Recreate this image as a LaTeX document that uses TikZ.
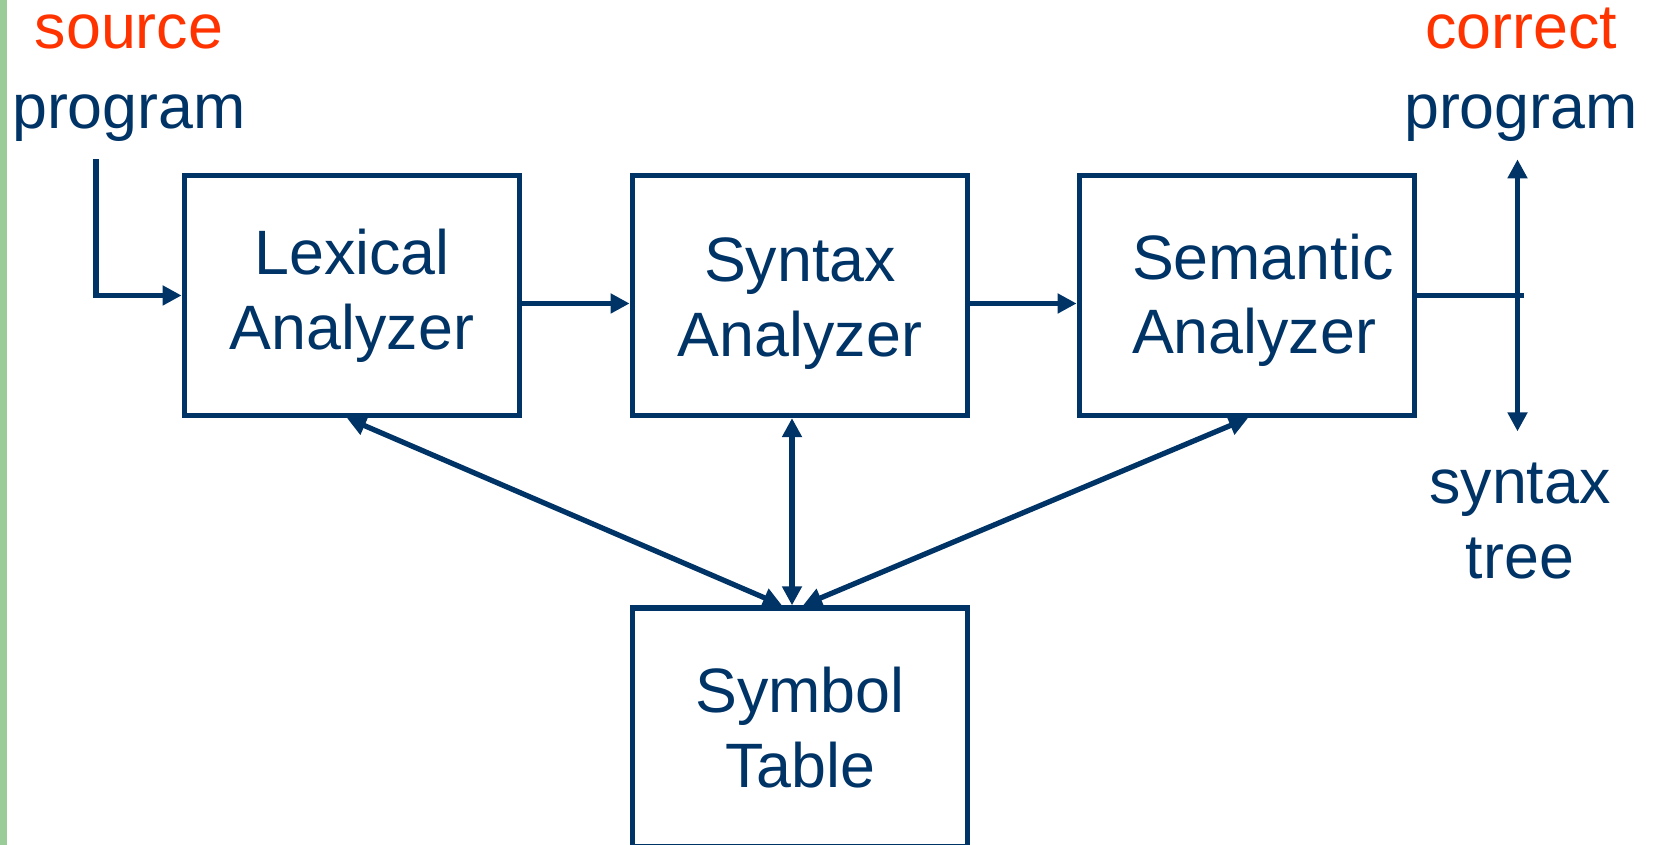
\documentclass[tikz,border=0pt]{standalone}
\usepackage{fontspec}
\setmainfont{Liberation Sans}
\usetikzlibrary{arrows.meta}

\definecolor{navy}{HTML}{003366}
\definecolor{hot}{HTML}{FF3300}
\definecolor{rim}{HTML}{99CC99}

\hyphenpenalty=10000

\begin{document}
\begin{tikzpicture}[
  every node/.style={font=\fontsize{35.7}{42.5}\selectfont, text=navy, align=center, inner sep=0pt},
  phase/.style={rectangle, draw=navy, line width=3pt, minimum width=6.71cm, minimum height=4.8cm},
  low/.style={text height=2.70cm},
  lbl/.style={anchor=base, font=\fontsize{35.7}{45.5}\selectfont},
  flow/.style={->, draw=navy, line width=3pt},
  link/.style={<->, draw=navy, line width=3pt},
  >={Triangle[length=0.38cm, width=0.38cm]}
]
\useasboundingbox (0,0) rectangle (33.1,16.9);

% green rule on the left
\fill[rim] (0,0) rectangle (0.134,16.9);

% compiler phases
\node[phase] (lex) at (7.04, 10.99) {Lexical\\Analyzer};
\node[phase, low] (syn) at (16.0, 10.99) {Syntax\\Analyzer};
\node[phase, align=flush left, text width=4.6cm, text height=1.1cm] (sem) at (24.94, 10.99) {Semantic\\Analyzer};
\node[phase, minimum height=4.78cm] (sym) at (16.0, 2.35) {Symbol\\Table};

% input and output labels
\node[lbl] (src) at (2.58, 14.33) {{\color{hot}source}\\program};
\node[lbl] (out) at (30.42, 14.33) {{\color{hot}correct}\\program};
\node[lbl, font=\fontsize{35.7}{42.5}\selectfont] (tree) at (30.40, 5.33) {syntax\\tree};

% main pipeline
\draw[flow] ([xshift=-0.66cm, yshift=-0.35cm]src.south) |- (lex.west);
\draw[flow] ([yshift=-0.16cm]lex.east) -- ([yshift=-0.16cm]syn.west);
\draw[flow] ([yshift=-0.16cm]syn.east) -- ([yshift=-0.16cm]sem.west);

% result goes either way
\path (sem.east -| out.south) ++(-0.07,0) coordinate (split);
\draw[navy, line width=3pt] (sem.east) -- ([xshift=0.13cm]split);
\draw[flow, shorten >=0.35cm] (split) -- (split |- out.south);
\draw[flow, shorten >=0.63cm] (split) -- (split |- tree.north);

% symbol table access
\draw[link] ([xshift=-0.1cm]lex.south) -- ([xshift=-0.36cm]sym.north);
\draw[link] ([xshift=-0.16cm]syn.south) -- ([xshift=-0.16cm]sym.north);
\draw[link] ([xshift=0.02cm]sem.south) -- ([xshift=0.06cm]sym.north);
\end{tikzpicture}
\end{document}
